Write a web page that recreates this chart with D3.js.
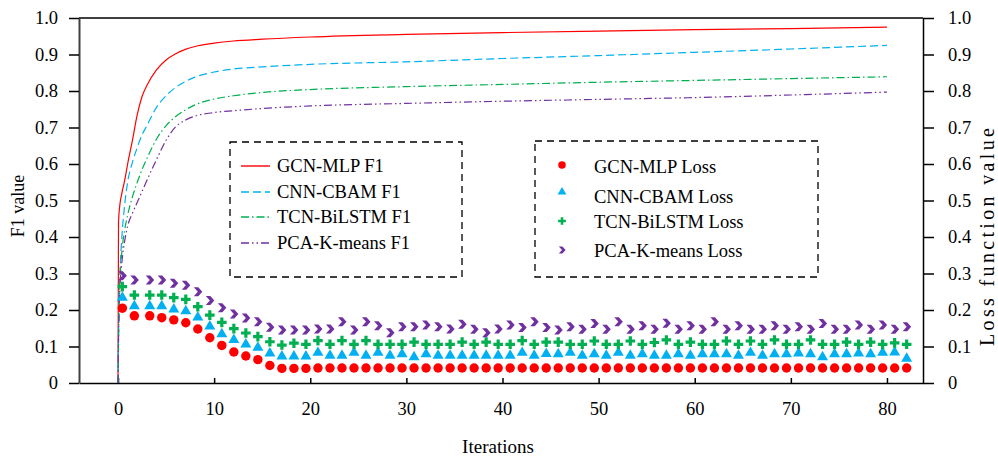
<!DOCTYPE html>
<html>
<head>
<meta charset="utf-8">
<script src="https://cdn.jsdelivr.net/npm/d3@7"></script>
<style>
  html, body { margin: 0; padding: 0; background: #fff; }
  text { font-family: "Liberation Serif", "Times New Roman", serif; fill: #000; }
</style>
</head>
<body>
<div id="chart"></div>
<script>
// F1 curves, sampled at these iterations
const f1Iter = [0, 0.05, 0.2, 0.4, 0.7, 1, 1.5, 2, 2.5, 3, 4, 5, 6, 7, 8, 10, 12, 15, 20, 30, 40, 50, 60, 70, 80];
const gcnF1 = [0, 0.44, 0.49, 0.52, 0.556, 0.60, 0.665, 0.735, 0.785, 0.815, 0.858, 0.885, 0.902, 0.914, 0.922, 0.931, 0.937, 0.942, 0.948, 0.955, 0.960, 0.964, 0.968, 0.971, 0.975];
const cnnF1 = [0, 0.15, 0.30, 0.40, 0.49, 0.55, 0.605, 0.645, 0.68, 0.705, 0.755, 0.787, 0.81, 0.826, 0.838, 0.852, 0.86, 0.866, 0.873, 0.880, 0.889, 0.897, 0.906, 0.915, 0.925];
const tcnF1 = [0, 0.10, 0.28, 0.36, 0.42, 0.46, 0.51, 0.55, 0.585, 0.615, 0.668, 0.705, 0.73, 0.748, 0.762, 0.778, 0.787, 0.796, 0.804, 0.812, 0.818, 0.824, 0.829, 0.834, 0.839];
const pcaF1 = [0, 0.12, 0.26, 0.33, 0.39, 0.43, 0.465, 0.495, 0.525, 0.555, 0.612, 0.665, 0.702, 0.72, 0.731, 0.741, 0.746, 0.752, 0.759, 0.766, 0.772, 0.777, 0.782, 0.789, 0.797];

// loss markers
const lossIter = [0.45, 1.7, 3.3, 4.55, 5.8, 7.05, 8.3, 9.55, 10.8, 12.05, 13.3, 14.55,
  15.8, 17.05, 18.3, 19.55, 20.8, 22.05, 23.3, 24.55, 25.8, 27.05, 28.3, 29.55,
  30.8, 32.05, 33.3, 34.55, 35.8, 37.05, 38.3, 39.55, 40.8, 42.05, 43.3, 44.55,
  45.8, 47.05, 48.3, 49.55, 50.8, 52.05, 53.3, 54.55, 55.8, 57.05, 58.3, 59.55,
  60.8, 62.05, 63.3, 64.55, 65.8, 67.05, 68.3, 69.55, 70.8, 72.05, 73.3, 74.55,
  75.8, 77.05, 78.3, 79.55, 80.8, 82.05];
const gcnLoss = [0.205, 0.184, 0.184, 0.179, 0.173, 0.165, 0.148, 0.124, 0.103, 0.085, 0.074, 0.064, 0.048, 0.040, 0.040, 0.040,
  0.041, 0.041, 0.041, 0.041, 0.041, 0.041, 0.041, 0.041, 0.041, 0.041, 0.041, 0.041, 0.041, 0.041, 0.041, 0.041, 0.041, 0.041,
  0.041, 0.041, 0.041, 0.041, 0.041, 0.041, 0.041, 0.041, 0.041, 0.041, 0.041, 0.041, 0.041, 0.041, 0.041, 0.041, 0.041,
  0.041, 0.041, 0.041, 0.041, 0.041, 0.041, 0.041, 0.041, 0.041, 0.041, 0.041, 0.041, 0.041, 0.041, 0.041];
const cnnLoss = [0.234, 0.211, 0.211, 0.211, 0.202, 0.197, 0.180, 0.155, 0.134, 0.118, 0.106, 0.097, 0.081, 0.073, 0.073, 0.073,
  0.083, 0.075, 0.075, 0.083, 0.075, 0.083, 0.075, 0.079, 0.071, 0.079, 0.075, 0.075, 0.075, 0.075, 0.075, 0.075, 0.075, 0.083,
  0.075, 0.080, 0.079, 0.083, 0.075, 0.079, 0.075, 0.083, 0.075, 0.079, 0.075, 0.075, 0.079, 0.075, 0.079, 0.079, 0.079,
  0.075, 0.083, 0.075, 0.079, 0.079, 0.081, 0.079, 0.071, 0.079, 0.079, 0.081, 0.079, 0.083, 0.084, 0.067];
const tcnLoss = [0.264, 0.241, 0.241, 0.241, 0.234, 0.229, 0.209, 0.186, 0.166, 0.149, 0.137, 0.127, 0.113, 0.104, 0.109, 0.106,
  0.116, 0.106, 0.116, 0.106, 0.116, 0.106, 0.106, 0.106, 0.112, 0.106, 0.106, 0.106, 0.112, 0.106, 0.112, 0.106, 0.106, 0.116,
  0.106, 0.112, 0.112, 0.106, 0.106, 0.115, 0.106, 0.106, 0.115, 0.106, 0.111, 0.118, 0.106, 0.112, 0.106, 0.106, 0.115,
  0.106, 0.115, 0.106, 0.118, 0.106, 0.106, 0.118, 0.106, 0.106, 0.112, 0.106, 0.112, 0.106, 0.110, 0.106];
const pcaLoss = [0.294, 0.282, 0.282, 0.282, 0.273, 0.268, 0.250, 0.226, 0.206, 0.189, 0.178, 0.168, 0.153, 0.145, 0.145, 0.145,
  0.148, 0.148, 0.168, 0.145, 0.168, 0.157, 0.138, 0.154, 0.154, 0.159, 0.154, 0.148, 0.161, 0.147, 0.138, 0.148, 0.159, 0.152,
  0.168, 0.152, 0.145, 0.154, 0.147, 0.163, 0.147, 0.168, 0.147, 0.157, 0.147, 0.164, 0.147, 0.157, 0.147, 0.168, 0.147,
  0.157, 0.147, 0.147, 0.157, 0.147, 0.154, 0.147, 0.163, 0.147, 0.147, 0.159, 0.147, 0.159, 0.147, 0.154];

const xTicks = [0, 10, 20, 30, 40, 50, 60, 70, 80];
const yTicks = [0, 0.1, 0.2, 0.3, 0.4, 0.5, 0.6, 0.7, 0.8, 0.9, 1.0];

const f1Names = ["GCN-MLP F1", "CNN-CBAM F1", "TCN-BiLSTM F1", "PCA-K-means F1"];
const lossNames = ["GCN-MLP Loss", "CNN-CBAM Loss", "TCN-BiLSTM Loss", "PCA-K-means Loss"];

const colors = ["#ff0000", "#00b0f0", "#00b050", "#7030a0"];
const dashes = [null, "8,4", "8,3,1.5,3", "8,3,1.5,3,1.5,3"];

const W = 998, H = 458;
const svg = d3.select("#chart").append("svg").attr("width", W).attr("height", H);

const x = d3.scaleLinear().domain([-4.06, 83.75]).range([79, 923]);
const y = d3.scaleLinear().domain([0, 1]).range([383, 18]);
const yR = d3.scaleLinear().domain([0, 1]).range([383, 18]);

const fmt = d => d === 0 ? "0" : d.toFixed(1);

// top edge of the frame
svg.append("line").attr("x1", 79).attr("x2", 923).attr("y1", 18).attr("y2", 18)
  .attr("stroke", "#000").attr("stroke-width", 1.3);

// axes
const gx = svg.append("g").attr("transform", "translate(0,383)")
  .call(d3.axisBottom(x).tickValues(xTicks).tickSizeInner(-5).tickSizeOuter(0).tickPadding(19));
const gy = svg.append("g").attr("transform", "translate(79,0)")
  .call(d3.axisLeft(y).tickValues(yTicks).tickFormat(fmt).tickSizeInner(10).tickSizeOuter(0).tickPadding(11));
const gyr = svg.append("g").attr("transform", "translate(923,0)")
  .call(d3.axisRight(yR).tickValues(yTicks).tickFormat(fmt).tickSizeInner(11).tickSizeOuter(0).tickPadding(14));

[gx, gy, gyr].forEach(g => {
  g.selectAll("path.domain").attr("stroke", "#000").attr("stroke-width", 1.5);
  g.selectAll(".tick line").attr("stroke", "#000").attr("stroke-width", 1.5);
  g.selectAll("text").attr("font-size", 18.5).attr("font-family", "Liberation Serif, Times New Roman, serif").attr("fill", "#000");
});
gy.select("path.domain").attr("stroke", "#404040").attr("stroke-width", 2);

// axis titles
svg.append("text").attr("x", 498).attr("y", 453).attr("text-anchor", "middle")
  .attr("font-size", 19).text("Iterations");
svg.append("text").attr("transform", "translate(24,206) rotate(-90)").attr("text-anchor", "middle")
  .attr("font-size", 18).text("F1 value");
svg.append("text").attr("transform", "translate(994,237) rotate(-90)").attr("text-anchor", "middle")
  .attr("font-size", 20).attr("textLength", 218).attr("lengthAdjust", "spacing")
  .text("Loss function value");

// F1 lines
const f1Series = [gcnF1, cnnF1, tcnF1, pcaF1];
const line = d3.line().x(d => x(d[0])).y(d => y(d[1])).curve(d3.curveMonotoneX);
f1Series.forEach((vals, i) => {
  svg.append("path")
    .datum(f1Iter.map((t, j) => [t, vals[j]]))
    .attr("d", line)
    .attr("fill", "none")
    .attr("stroke", colors[i])
    .attr("stroke-width", 1.2)
    .attr("stroke-dasharray", dashes[i]);
});

// marker shapes
const chevron = "M-4,-4.5 L0.5,-4.5 L4.5,0 L0.5,4.5 L-4,4.5 L0,0 Z";
const plus = "M-1.6,-4.8 L1.6,-4.8 L1.6,-1.6 L4.8,-1.6 L4.8,1.6 L1.6,1.6 L1.6,4.8 L-1.6,4.8 L-1.6,1.6 L-4.8,1.6 L-4.8,-1.6 L-1.6,-1.6 Z";
const shapes = [
  d3.symbol().type(d3.symbolCircle).size(70)(),
  d3.symbol().type(d3.symbolTriangle).size(52)(),
  plus,
  chevron
];

const lossSeries = [gcnLoss, cnnLoss, tcnLoss, pcaLoss];
lossSeries.forEach((vals, i) => {
  svg.append("g").selectAll("path")
    .data(lossIter.map((t, j) => [t, vals[j]]))
    .join("path")
    .attr("transform", d => `translate(${x(d[0])},${yR(d[1])})`)
    .attr("d", shapes[i])
    .attr("fill", colors[i]);
});

// legend 1 (F1 lines)
const leg1 = svg.append("g");
leg1.append("rect").attr("x", 230).attr("y", 142).attr("width", 232).attr("height", 135)
  .attr("fill", "#fff").attr("stroke", "#000").attr("stroke-width", 1.3).attr("stroke-dasharray", "7,5");
const rows1 = [166, 192, 217, 243];
f1Names.forEach((name, i) => {
  leg1.append("line").attr("x1", 241).attr("x2", 270).attr("y1", rows1[i]).attr("y2", rows1[i])
    .attr("stroke", colors[i]).attr("stroke-width", 1.4).attr("stroke-dasharray", dashes[i]);
  leg1.append("text").attr("x", 277).attr("y", rows1[i] + 6).attr("font-size", 18.5).text(name);
});

// legend 2 (loss markers)
const leg2 = svg.append("g");
leg2.append("rect").attr("x", 535).attr("y", 141).attr("width", 283).attr("height", 136)
  .attr("fill", "#fff").attr("stroke", "#000").attr("stroke-width", 1.3).attr("stroke-dasharray", "7,5");
const mark2 = [165, 192, 221, 250];
const text2 = [167, 197, 222, 251];
lossNames.forEach((name, i) => {
  leg2.append("path").attr("transform", `translate(562,${mark2[i]}) scale(0.8)`)
    .attr("d", shapes[i]).attr("fill", colors[i]);
  leg2.append("text").attr("x", 594).attr("y", text2[i] + 6).attr("font-size", 18.5).text(name);
});
</script>
</body>
</html>
